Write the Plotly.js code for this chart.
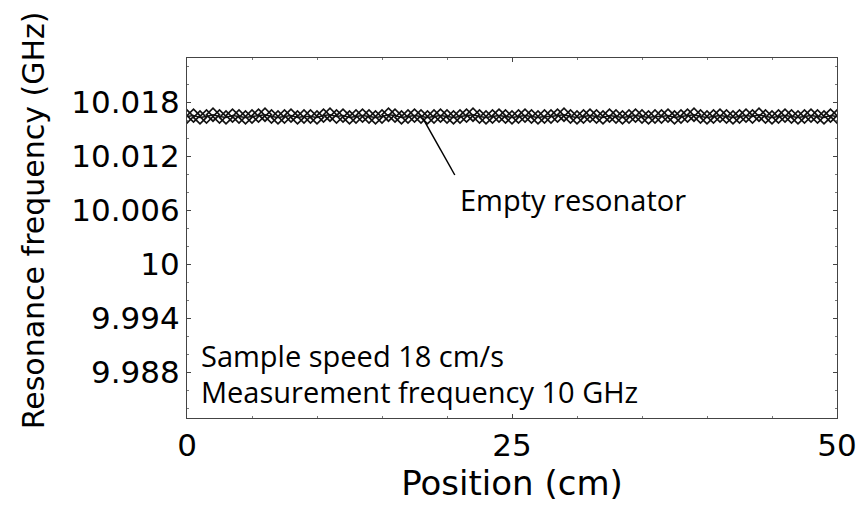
<!DOCTYPE html>
<html>
<head>
<meta charset="utf-8">
<script src="https://cdn.plot.ly/plotly-3.0.1.min.js"></script>
<style>html,body{margin:0;padding:0;background:#fff;}#chart{width:862px;height:506px;}</style>
</head>
<body>
<div id="chart"></div>
<script>
// Position along the resonator (cm)
const positionCm = [
  0,0.5,1,1.5,2,2.5,3,3.5,4,4.5,5,5.5,6,6.5,7,7.5,8,8.5,9,9.5,
  10,10.5,11,11.5,12,12.5,13,13.5,14,14.5,15,15.5,16,16.5,17,17.5,18,18.5,19,19.5,
  20,20.5,21,21.5,22,22.5,23,23.5,24,24.5,25,25.5,26,26.5,27,27.5,28,28.5,29,29.5,
  30,30.5,31,31.5,32,32.5,33,33.5,34,34.5,35,35.5,36,36.5,37,37.5,38,38.5,39,39.5,
  40,40.5,41,41.5,42,42.5,43,43.5,44,44.5,45,45.5,46,46.5,47,47.5,48,48.5,49,49.5,50
];
// Resonance frequency of the empty resonator (GHz)
const emptyResonatorGHz = [
  10.0164,10.0165,10.0163,10.0164,10.0166,10.0164,10.0163,10.0165,10.0164,10.0163,
  10.0164,10.0165,10.0166,10.0164,10.0163,10.0164,10.0165,10.0163,10.0164,10.0164,
  10.0163,10.0165,10.0166,10.0164,10.0165,10.0163,10.0164,10.0165,10.0164,10.0163,
  10.0164,10.0166,10.0165,10.0163,10.0164,10.0165,10.0164,10.0163,10.0164,10.0165,
  10.0164,10.0163,10.0164,10.0165,10.0166,10.0164,10.0163,10.0164,10.0165,10.0164,
  10.0163,10.0164,10.0165,10.0164,10.0163,10.0164,10.0164,10.0165,10.0166,10.0164,
  10.0163,10.0164,10.0165,10.0164,10.0163,10.0165,10.0164,10.0163,10.0164,10.0165,
  10.0164,10.0163,10.0164,10.0164,10.0165,10.0163,10.0164,10.0165,10.0166,10.0164,
  10.0163,10.0164,10.0165,10.0164,10.0163,10.0164,10.0165,10.0164,10.0166,10.0164,
  10.0163,10.0164,10.0165,10.0164,10.0163,10.0164,10.0165,10.0164,10.0163,10.0165,
  10.0164
];
const xTickVals = [0, 25, 50];
const xTickText = ['0', '25', '50'];
const yTickVals = [9.988, 9.994, 10, 10.006, 10.012, 10.018];
const yTickText = ['9.988', '9.994', '10', '10.006', '10.012', '10.018'];

const axisFont = {family: 'DejaVu Sans, Arial, sans-serif', size: 31, color: '#000'};
const noteFont = {family: 'Open Sans, Calibri, sans-serif', size: 29, color: '#000'};

const trace = {
  x: positionCm,
  y: emptyResonatorGHz,
  type: 'scatter',
  mode: 'lines+markers',
  line: {color: '#111', width: 1.5},
  marker: {symbol: 'diamond-open', size: 10, color: '#111', line: {width: 1.7, color: '#111'}},
  showlegend: false,
  hoverinfo: 'x+y'
};

const axisCommon = {
  showline: true, mirror: 'ticks', linecolor: '#444', linewidth: 1,
  ticks: 'inside', ticklen: 4, tickcolor: '#444', tickwidth: 1,
  showgrid: false, zeroline: false,
  tickfont: axisFont,
  minor: {ticks: 'inside', ticklen: 2, tickcolor: '#777', nticks: 5}
};

const layout = {
  width: 862, height: 506,
  paper_bgcolor: '#fff', plot_bgcolor: '#fff',
  margin: {l: 187, r: 25, t: 58, b: 88},
  xaxis: Object.assign({}, axisCommon, {
    range: [0, 50], tickvals: xTickVals, ticktext: xTickText,
    title: {text: 'Position (cm)', font: {family: 'DejaVu Sans, Arial, sans-serif', size: 34, color: '#000'}, standoff: 8}
  }),
  yaxis: Object.assign({}, axisCommon, {
    range: [9.9829, 10.0229], tickvals: yTickVals, ticktext: yTickText
  }),
  shapes: [
    {type: 'line', xref: 'x', yref: 'y', x0: 18.15, y0: 10.0162, x1: 20.6, y1: 10.0099,
     line: {color: '#000', width: 1.5}}
  ],
  annotations: [
    {text: 'Resonance frequency (GHz)', textangle: -90, xref: 'paper', yref: 'paper',
     x: -0.235, y: 0.55, xanchor: 'center', yanchor: 'middle', showarrow: false,
     font: {family: 'DejaVu Sans, Arial, sans-serif', size: 30, color: '#000'}},
    {text: 'Empty resonator', xref: 'x', yref: 'y', x: 20.85, y: 10.0072,
     xanchor: 'left', yanchor: 'middle', showarrow: false, font: noteFont},
    {text: 'Sample speed 18 cm/s', xref: 'x', yref: 'y', x: 0.9, y: 9.9898,
     xanchor: 'left', yanchor: 'middle', showarrow: false, font: noteFont},
    {text: 'Measurement frequency 10 GHz', xref: 'x', yref: 'y', x: 0.9, y: 9.9858,
     xanchor: 'left', yanchor: 'middle', showarrow: false, font: noteFont}
  ]
};

Plotly.newPlot('chart', [trace], layout, {displayModeBar: false, staticPlot: true});
</script>
</body>
</html>
